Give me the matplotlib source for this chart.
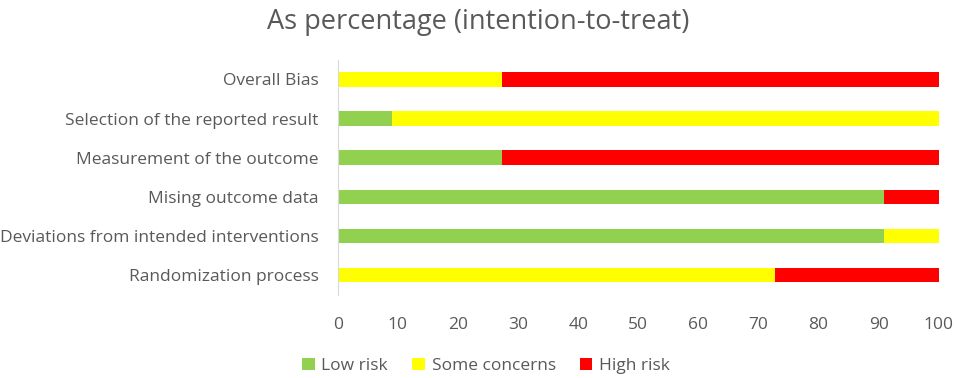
import numpy as np
import matplotlib.pyplot as plt

plt.rcParams['font.family'] = ['Open Sans', 'DejaVu Sans']

domains = ['Overall Bias', 'Selection of the reported result', 'Measurement of the outcome',
           'Mising outcome data', 'Deviations from intended interventions', 'Randomization process']
low_risk = [0, 9.09, 27.27, 90.91, 90.91, 0]
some_concerns = [27.27, 90.91, 0, 0, 9.09, 72.73]
high_risk = [72.73, 0, 72.73, 9.09, 0, 27.27]

grey = '#595959'
fig = plt.figure(figsize=(9.57, 3.78), dpi=100)
ax = fig.add_axes([0.353, 0.22, 0.628, 0.622])

y = np.arange(len(domains))
low = np.array(low_risk)
some = np.array(some_concerns)
high = np.array(high_risk)
h = 0.37
ax.barh(y, low, height=h, color='#92D050', label='Low risk')
ax.barh(y, some, left=low, height=h, color='#FFFF00', label='Some concerns')
ax.barh(y, high, left=low + some, height=h, color='#FF0000', label='High risk')

ax.set_ylim(len(domains) - 0.5, -0.5)
ax.set_xlim(0, 100)
ax.set_xticks(range(0, 101, 10))
ax.set_yticks(y)
ax.set_yticklabels(domains)
ax.tick_params(axis='both', length=0, colors=grey, labelsize=12.5)
ax.tick_params(axis='y', pad=14)
ax.tick_params(axis='x', pad=16)
for s in ['top', 'right', 'bottom']:
    ax.spines[s].set_visible(False)
ax.spines['left'].set_color('#D9D9D9')

fig.suptitle('As percentage (intention-to-treat)', y=0.98, fontsize=19.5, color=grey)
fig.legend(loc='lower center', bbox_to_anchor=(0.508, -0.03), ncol=3, frameon=False,
           fontsize=12.5, handlelength=0.7, handleheight=0.7, handletextpad=0.4,
           columnspacing=1.4, labelcolor=grey)

fig.savefig('out.png', dpi=100)
